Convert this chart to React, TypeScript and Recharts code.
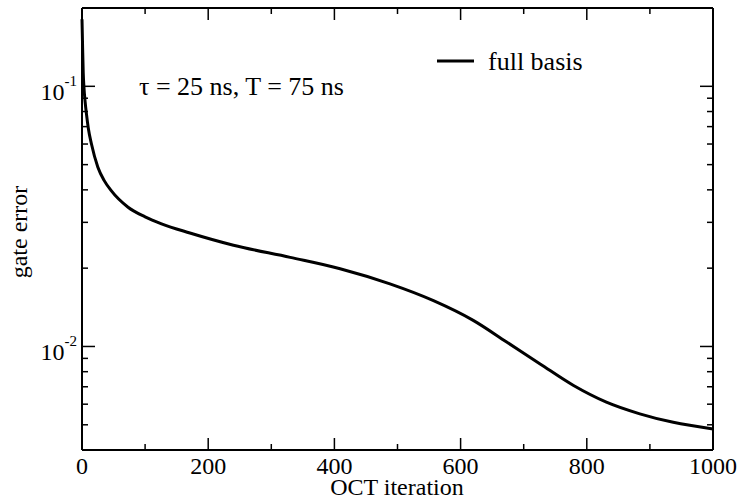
import React from "react";
import { LineChart, Line, XAxis, YAxis } from "recharts";

const iterations = [0, 1, 2, 3, 5, 7, 10, 15, 25, 35, 46, 73, 100, 126, 171, 240, 330, 409, 488, 557, 620, 673, 726, 779, 831, 884, 937, 1000];
const gateError = [0.181, 0.14, 0.112, 0.1, 0.087, 0.0785, 0.069, 0.06, 0.049, 0.0435, 0.0398, 0.0343, 0.0315, 0.0296, 0.0273, 0.0245, 0.022, 0.0199, 0.0174, 0.015, 0.0126, 0.0104, 0.00857, 0.00708, 0.00611, 0.00551, 0.00511, 0.00482];

const xTicks = [0, 100, 200, 300, 400, 500, 600, 700, 800, 900, 1000];
const yTicks = [0.004, 0.005, 0.006, 0.007, 0.008, 0.009, 0.01, 0.02, 0.03, 0.04, 0.05, 0.06, 0.07, 0.08, 0.09, 0.1, 0.2];

const data = iterations.map((it, i) => ({ it, err: gateError[i] }));

const FONT = "'Liberation Serif', 'Times New Roman', serif";

const isDecade = (v: number) => {
    const e = Math.round(Math.log10(v));
    return Math.abs(v - Math.pow(10, e)) < 1e-9;
};

// ticks point inward, labels only on bottom/left
function XTick(props: any) {
    const { x, y, payload, top } = props;
    const major = payload.value % 200 === 0;
    const len = major ? 12 : 6;
    const dir = top ? 1 : -1;
    return (
        <g>
            <line x1={x} x2={x} y1={y} y2={y + dir * len} stroke="#000" strokeWidth={1.5} />
            {!top && major && (
                <text x={x} y={y + 24} textAnchor="middle" fontSize={24} fontFamily={FONT} fill="#000">
                    {payload.value}
                </text>
            )}
        </g>
    );
}

function YTick(props: any) {
    const { x, y, payload, right } = props;
    const v = payload.value;
    const major = isDecade(v);
    const len = major ? 13 : 6;
    const dir = right ? -1 : 1;
    const exp = Math.round(Math.log10(v));
    return (
        <g>
            <line x1={x} x2={x + dir * len} y1={y} y2={y} stroke="#000" strokeWidth={1.5} />
            {!right && major && (
                <text x={x - 5} y={y + 14} textAnchor="end" fontSize={24} fontFamily={FONT} fill="#000">
                    10
                    <tspan dy={-14} fontSize={15}>
                        {exp}
                    </tspan>
                </text>
            )}
        </g>
    );
}

export default function App() {
    return (
        <div style={{ width: 743, height: 500, background: "#fff" }}>
            <style>{"body { margin: 0; }"}</style>
            <LineChart width={743} height={500} data={data} margin={{ top: 0, right: 0, bottom: 0, left: 0 }}>
                <XAxis
                    xAxisId="bottom"
                    dataKey="it"
                    type="number"
                    domain={[0, 1000]}
                    ticks={xTicks}
                    interval={0}
                    height={50}
                    tickSize={0}
                    tickMargin={0}
                    tickLine={false}
                    axisLine={{ stroke: "#000", strokeWidth: 2 }}
                    tick={<XTick />}
                />
                <XAxis
                    xAxisId="top"
                    orientation="top"
                    dataKey="it"
                    type="number"
                    domain={[0, 1000]}
                    ticks={xTicks}
                    interval={0}
                    height={8}
                    tickSize={0}
                    tickMargin={0}
                    tickLine={false}
                    axisLine={{ stroke: "#000", strokeWidth: 2 }}
                    tick={<XTick top />}
                />
                <YAxis
                    yAxisId="left"
                    scale="log"
                    type="number"
                    domain={[0.004, 0.2]}
                    allowDataOverflow
                    ticks={yTicks}
                    interval={0}
                    width={82}
                    tickSize={0}
                    tickMargin={0}
                    tickLine={false}
                    axisLine={{ stroke: "#000", strokeWidth: 2 }}
                    tick={<YTick />}
                />
                <YAxis
                    yAxisId="right"
                    orientation="right"
                    scale="log"
                    type="number"
                    domain={[0.004, 0.2]}
                    allowDataOverflow
                    ticks={yTicks}
                    interval={0}
                    width={30}
                    tickSize={0}
                    tickMargin={0}
                    tickLine={false}
                    axisLine={{ stroke: "#000", strokeWidth: 2 }}
                    tick={<YTick right />}
                />
                <Line
                    xAxisId="bottom"
                    yAxisId="left"
                    dataKey="err"
                    type="monotone"
                    stroke="#000"
                    strokeWidth={3}
                    dot={false}
                    isAnimationActive={false}
                />
                <text x={397} y={495} textAnchor="middle" fontSize={24} fontFamily={FONT} fill="#000">
                    OCT iteration
                </text>
                <text transform="translate(27,232) rotate(-90)" textAnchor="middle" fontSize={24} fontFamily={FONT} fill="#000">
                    gate error
                </text>
                <text x={139} y={95} fontSize={26} fontFamily={FONT} fill="#000">
                    τ = 25 ns, T = 75 ns
                </text>
                <line x1={437} x2={474} y1={61} y2={61} stroke="#000" strokeWidth={3} />
                <text x={488} y={70} fontSize={26} fontFamily={FONT} fill="#000">
                    full basis
                </text>
            </LineChart>
        </div>
    );
}
